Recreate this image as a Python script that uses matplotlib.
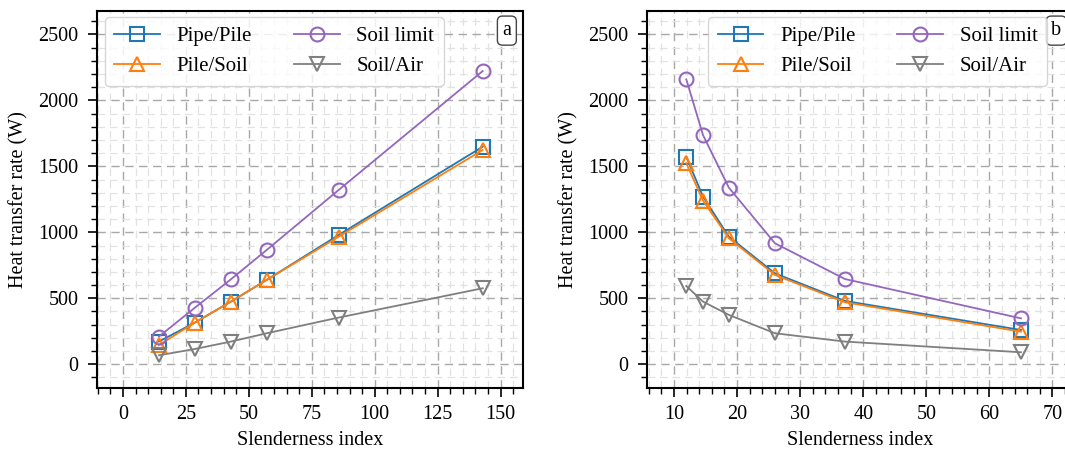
import matplotlib.pyplot as plt
from matplotlib.ticker import MultipleLocator

plt.rcParams['font.family'] = ['Liberation Serif', 'DejaVu Serif']
plt.rcParams['font.size'] = 14.5
plt.rcParams['mathtext.fontset'] = 'stix'

# (a) 长细比变化 - 桩长
x_a = [14.3, 28.6, 42.9, 57.1, 85.7, 142.9]
pipe_pile_a = [172, 316, 475, 639, 980, 1649]
pile_soil_a = [146, 316, 475, 639, 967, 1624]
soil_limit_a = [210, 429, 644, 866, 1321, 2222]
soil_air_a = [68, 116, 172, 235, 354, 576]

# (b) 长细比变化 - 桩径
x_b = [11.95, 14.6, 18.7, 26.0, 37.1, 65.0]
pipe_pile_b = [1573, 1270, 967, 689, 480, 260]
pile_soil_b = [1523, 1240, 955, 677, 470, 247]
soil_limit_b = [2159, 1737, 1338, 917, 646, 348]
soil_air_b = [593, 475, 374, 235, 172, 91]

labels = ['Pipe/Pile', 'Pile/Soil', 'Soil limit', 'Soil/Air']
colors = ['tab:blue', 'tab:orange', 'tab:purple', 'tab:gray']
markers = ['s', '^', 'o', 'v']

fig = plt.figure(figsize=(10.65, 4.49), dpi=100)
ax1 = fig.add_axes([0.0913, 0.1352, 0.400, 0.8403])
ax2 = fig.add_axes([0.6078, 0.1352, 0.400, 0.8403])


def draw(ax, x, series, xlim, xmajor, xminor, tag, leg_x):
    for y, lab, c, m in zip(series, labels, colors, markers):
        ax.plot(x, y, color=c, marker=m, markersize=10, markerfacecolor='none',
                markeredgewidth=1.5, linewidth=1.3, label=lab)
    ax.set_xlim(*xlim)
    ax.set_ylim(-182, 2677)
    ax.xaxis.set_major_locator(MultipleLocator(xmajor))
    ax.xaxis.set_minor_locator(MultipleLocator(xminor))
    ax.yaxis.set_major_locator(MultipleLocator(500))
    ax.yaxis.set_minor_locator(MultipleLocator(100))
    ax.grid(which='major', linestyle=(0, (6, 4)), color='#a8a8a8', linewidth=1.0)
    ax.grid(which='minor', linestyle=(0, (6, 4)), color='#e2e2e2', linewidth=0.9)
    ax.set_axisbelow(True)
    ax.tick_params(which='major', direction='out', length=6.5, width=1.2)
    ax.tick_params(which='minor', direction='out', length=4, width=1.0)
    ax.tick_params(axis='y', which='major', pad=7)
    ax.tick_params(axis='x', which='major', pad=5.5)
    for s in ax.spines.values():
        s.set_linewidth(1.5)
    ax.set_xlabel('Slenderness index', labelpad=5)
    ax.set_ylabel('Heat transfer rate (W)', labelpad=7)
    ax.legend(ncol=2, loc='upper left', bbox_to_anchor=(leg_x, 0.983),
              borderaxespad=0, fontsize=15, fancybox=True, framealpha=0.8,
              edgecolor='#cccccc', handlelength=2.2, columnspacing=2.0,
              borderpad=0.45, labelspacing=0.5)
    ax.text(0.972, 0.948, tag, transform=ax.transAxes, ha='right', va='center',
            fontsize=14.5,
            bbox=dict(boxstyle='round,pad=0.25', facecolor='white', edgecolor='#444444'))


draw(ax1, x_a, [pipe_pile_a, pile_soil_a, soil_limit_a, soil_air_a],
     (-10.2, 159), 25, 5, 'a', 0.018)
draw(ax2, x_b, [pipe_pile_b, pile_soil_b, soil_limit_b, soil_air_b],
     (5.77, 73.3), 10, 2, 'b', 0.143)

plt.savefig('out.png', dpi=100)
